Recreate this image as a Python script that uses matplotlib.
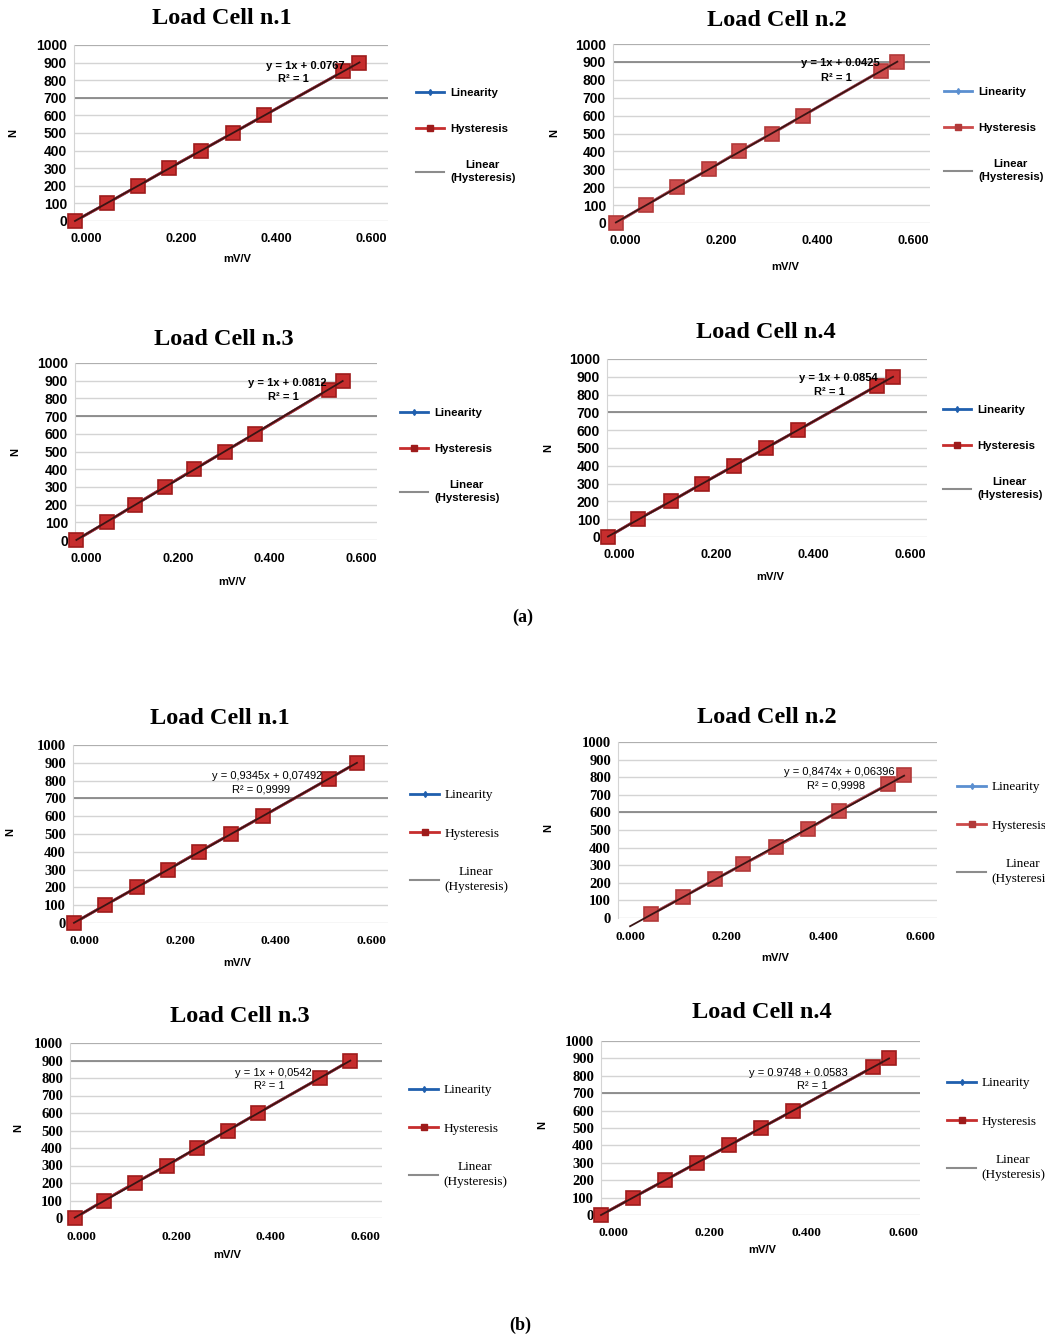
import numpy as np
import matplotlib.pyplot as plt
from matplotlib.lines import Line2D

W, H = 1045, 1336

# ---- values (mV/V vs N) ----
load_a = [0, 100, 200, 300, 400, 500, 600, 850, 900]
a1_mv = [-0.023, 0.044, 0.110, 0.175, 0.242, 0.309, 0.375, 0.541, 0.575]
a2_mv = [-0.019, 0.044, 0.108, 0.175, 0.238, 0.306, 0.371, 0.533, 0.567]
a3_mv = [-0.022, 0.044, 0.107, 0.171, 0.236, 0.302, 0.368, 0.530, 0.560]
a4_mv = [-0.023, 0.039, 0.107, 0.171, 0.237, 0.303, 0.369, 0.532, 0.565]

b1_load = [0, 100, 200, 300, 400, 500, 600, 810, 900]
b1_mv = [-0.023, 0.042, 0.109, 0.174, 0.239, 0.306, 0.373, 0.511, 0.570]
b2_load = [20, 120, 220, 305, 405, 505, 610, 760, 810]
b2_mv = [0.043, 0.110, 0.176, 0.234, 0.302, 0.369, 0.433, 0.534, 0.567]
b3_load = [0, 100, 200, 300, 400, 500, 600, 800, 900]
b3_mv = [-0.015, 0.047, 0.112, 0.180, 0.244, 0.309, 0.373, 0.504, 0.568]
b4_load = [0, 100, 200, 300, 400, 500, 600, 850, 900]
b4_mv = [-0.025, 0.041, 0.108, 0.174, 0.240, 0.306, 0.373, 0.538, 0.571]

titles = ["Load Cell n.1", "Load Cell n.2", "Load Cell n.3", "Load Cell n.4"]
eq_a = ["y = 1x + 0.0767", "y = 1x + 0.0425", "y = 1x + 0.0812", "y = 1x + 0.0854"]
r2_a = ["R² = 1", "R² = 1", "R² = 1", "R² = 1"]
eq_b = ["y = 0,9345x + 0,07492", "y = 0,8474x + 0,06396", "y = 1x + 0,0542", "y = 0.9748 + 0.0583"]
r2_b = ["R² = 0,9999", "R² = 0,9998", "R² = 1", "R² = 1"]
dark_grid = [700, 900, 700, 700, 700, 600, 900, 700]

x_ticks = [0.0, 0.2, 0.4, 0.6]
y_ticks = list(range(0, 1001, 100))
legend_labels = ["Linearity", "Hysteresis", "Linear\n(Hysteresis)"]

# ---- layout in pixels: axes box, title, equation, R², legend, N, mV/V ----
layout = [
    dict(box=(74, 45, 388, 221), title=(222, 18), eq=(305, 66), r2=(293, 79), leg=(416, 95), n=(13, 133), mv=(237, 259)),
    dict(box=(613, 44, 930, 223), title=(777, 20), eq=(840, 63), r2=(836, 78), leg=(944, 94), n=(554, 133), mv=(785, 267)),
    dict(box=(75, 363, 377, 540), title=(224, 340), eq=(287, 383), r2=(283, 397), leg=(400, 415), n=(15, 452), mv=(232, 582)),
    dict(box=(607, 359, 927, 537), title=(766, 333), eq=(838, 378), r2=(829, 392), leg=(943, 412), n=(548, 448), mv=(770, 577)),
    dict(box=(73, 745, 388, 923), title=(220, 718), eq=(267, 776), r2=(261, 790), leg=(410, 796), n=(10, 832), mv=(237, 963)),
    dict(box=(618, 742, 937, 918), title=(767, 717), eq=(839, 772), r2=(836, 786), leg=(957, 788), n=(548, 828), mv=(775, 958)),
    dict(box=(70, 1043, 382, 1218), title=(240, 1016), eq=(273, 1073), r2=(269, 1086), leg=(409, 1091), n=(18, 1128), mv=(227, 1255)),
    dict(box=(601, 1041, 920, 1215), title=(762, 1013), eq=(798, 1073), r2=(812, 1086), leg=(947, 1084), n=(542, 1125), mv=(762, 1250)),
]

SANS = "Liberation Sans"
SERIF = "Liberation Serif"


def fxy(x, y):
    return x / W, 1 - y / H


def draw_panel(fig, lay, mv, load, title, eq, r2, dark, part_b, light=False):
    l, t, r, b = lay["box"]
    ax = fig.add_axes([l / W, 1 - b / H, (r - l) / W, (b - t) / H])
    ax.set_xlim(-0.025, 0.635)
    ax.set_ylim(0, 1000)

    red = "#cc4a4a" if light else "#c62d2d"
    red_edge = "#b23a3a" if light else "#9e1b1b"
    blue = "#5b8fd0" if light else "#1f5fae"

    x = np.array(mv)
    y = np.array(load)
    ax.plot(x, y, color=blue, lw=2, zorder=2)
    ax.plot(x, y, color=red, lw=2, marker="s", ms=10, mfc=red, mec=red_edge,
            mew=1.2, zorder=3, clip_on=False)
    k, c = np.polyfit(x, y, 1)
    xt = np.array([min(x.min(), 0.0), x.max()])
    ax.plot(xt, k * xt + c, color="#3a1414", lw=1.3, zorder=4, clip_on=False)

    ax.set_yticks(y_ticks)
    ax.set_xticks(x_ticks)
    ax.set_xticklabels([f"{v:.3f}" for v in x_ticks])
    ax.yaxis.grid(True, color="#d4d4d4", lw=1)
    ax.axhline(1000, color="#a8a8a8", lw=1.2, zorder=1)
    ax.axhline(dark, color="#808080", lw=1.2, zorder=1)
    ax.set_axisbelow(True)
    for s in ["top", "right", "bottom"]:
        ax.spines[s].set_visible(False)
    ax.spines["left"].set_color("#d4d4d4")
    ax.tick_params(length=0)
    ax.tick_params(axis="y", pad=5)
    ax.tick_params(axis="x", pad=9)
    fam = SERIF if part_b else SANS
    for lab in ax.get_xticklabels():
        lab.set_fontfamily(fam)
        lab.set_fontsize(9.5 if part_b else 9)
        lab.set_fontweight("bold")
    for lab in ax.get_yticklabels():
        lab.set_fontfamily(fam)
        lab.set_fontsize(10.5 if part_b else 10)
        lab.set_fontweight("bold")

    fig.text(*fxy(*lay["title"]), title, ha="center", va="center",
             family=SERIF, size=17.5, weight="bold")
    eq_w = "normal" if part_b else "bold"
    fig.text(*fxy(*lay["eq"]), eq, ha="center", va="center", family=SANS, size=8, weight=eq_w, zorder=6)
    fig.text(*fxy(*lay["r2"]), r2, ha="center", va="center", family=SANS, size=8, weight=eq_w, zorder=6)
    fig.text(*fxy(*lay["n"]), "N", ha="center", va="center", rotation=90,
             family=SANS, size=8, weight="bold")
    fig.text(*fxy(*lay["mv"]), "mV/V", ha="center", va="center",
             family=SANS, size=8, weight="bold")

    handles = [
        Line2D([], [], color=blue, lw=2, marker="d", ms=3),
        Line2D([], [], color=red, lw=2, marker="s", ms=4, mfc=red_edge, mec=red_edge),
        Line2D([], [], color="#8c8c8c", lw=1.5),
    ]
    if part_b:
        prop = dict(family=SERIF, size=9.5)
        hl, hp, ls = 2.2, 0.4, 2.0
    else:
        prop = dict(family=SANS, size=8.2, weight="bold")
        hl, hp, ls = 2.5, 0.5, 2.3
    lx, ly = lay["leg"]
    leg = ax.legend(handles, legend_labels, loc="upper left",
                    bbox_to_anchor=fxy(lx, ly - 7), bbox_transform=fig.transFigure,
                    frameon=False, borderpad=0, borderaxespad=0, handlelength=hl,
                    handletextpad=hp, labelspacing=ls, prop=prop)
    for txt in leg.get_texts():
        txt.set_multialignment("center")
        txt.set_linespacing(1.35)
    return ax


fig = plt.figure(figsize=(W / 100, H / 100), dpi=100)

part_a = [a1_mv, a2_mv, a3_mv, a4_mv]
for i in range(4):
    draw_panel(fig, layout[i], part_a[i], load_a, titles[i], eq_a[i], r2_a[i],
               dark_grid[i], part_b=False, light=(i == 1))

part_b_mv = [b1_mv, b2_mv, b3_mv, b4_mv]
part_b_load = [b1_load, b2_load, b3_load, b4_load]
for i in range(4):
    draw_panel(fig, layout[4 + i], part_b_mv[i], part_b_load[i], titles[i], eq_b[i], r2_b[i],
               dark_grid[4 + i], part_b=True, light=(i == 1))

fig.text(*fxy(523, 617), "(a)", ha="center", va="center", family=SERIF, size=13, weight="bold")
fig.text(*fxy(520, 1325), "(b)", ha="center", va="center", family=SERIF, size=13, weight="bold")

fig.savefig("out.png", dpi=100)
